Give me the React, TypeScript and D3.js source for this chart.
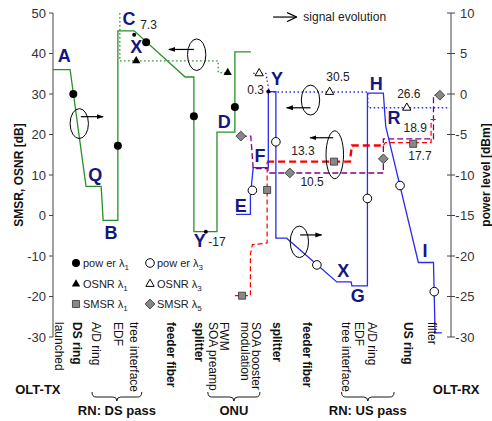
import React from 'react';
import * as d3 from 'd3';

const W = 492, H = 421;
const FONT = "'Liberation Sans', Arial, Helvetica, sans-serif";

// ---------- data (x: position along the link, a.u. 0..100; left axis dB, right axis dBm) ----------
const powerL1: number[][] = [[0, 3.0], [4.3, 3.0], [8.3, -11.4], [12.1, -11.4], [12.6, -15.6], [16.3, -15.6], [16.3, 7.8], [20.4, 7.8], [33.2, 2.1], [35.4, 2.1], [35.4, -17], [41.2, -17], [41.2, -4.7], [45.7, -4.7], [45.7, 5.2], [49.7, 5.2]];
const powerL1Marks: number[][] = [[5.1, 0.0], [16.3, -6.4], [23.4, 6.4], [35.4, -2.75], [45.7, -1.6]];
const powerDots: [number, number][] = [[20.4, 7.3], [38.4, -17], [54.1, 0.3]];

const powerL3: number[][] = [[46.0, -14.85], [49.6, -14.85], [49.6, -12.6], [50.3, -9.1], [54.1, -9.1], [54.1, 0.3], [56.0, 0.3], [56.0, -17.8], [58.7, -17.8], [71.3, -23.2], [74.9, -23.2], [75.1, -23.7], [79.0, -23.7], [79.0, 0.1], [83.0, 0.1], [83.6, -4.0], [91.8, -20.8], [95.6, -20.8], [96.0, -29.5], [97.7, -29.5]];
const powerL3Marks: number[][] = [[50.1, -11.9], [56.0, -5.9], [66.3, -21.1], [79.0, -12.9], [87.2, -11.3], [95.8, -24.4]];

const osnrL1: number[][] = [[16.8, 50], [16.8, 38.2], [41.5, 38.2], [41.5, 35.3], [43.9, 35.3]];
const osnrL1Marks: number[][] = [[20.9, 38.2], [43.9, 35.3]];

const osnrL3: number[][] = [[50.3, 35.1], [53.5, 35.1], [54.3, 30.5], [79.1, 30.5], [79.1, 26.6], [99.7, 26.6]];
const osnrL3Marks: number[][] = [[51.8, 35.1], [69.5, 30.5], [88.9, 26.6]];

const smsrL1a: number[][] = [[45.7, -19.8], [49.6, -19.8], [49.6, -9.5], [50.1, -7.2], [53.8, -6.8], [53.8, 13.3]];
const smsrL1b: number[][] = [[53.8, 13.3], [74.6, 13.3], [75.1, 17.3], [83.0, 17.3]];
const smsrL1c: number[][] = [[83.0, 17.3], [83.5, 18.0], [95.0, 18.0], [95.0, 23.7], [96.2, 23.7]];
const smsrL1Marks: number[][] = [[47.5, -19.8], [53.8, 6.3], [70.6, 13.3], [90.5, 17.7]];

const smsrL5: number[][] = [[47.2, 19.6], [49.7, 19.6], [50.3, 11.6], [54.0, 11.6], [54.0, 10.5], [83.0, 10.5], [83.0, 18.9], [95.6, 18.9], [95.6, 29.7], [97.2, 29.7]];
const smsrL5Marks: number[][] = [[47.2, 19.6], [59.5, 10.5], [83.0, 14.0], [97.2, 29.7]];

// stage letters (x, left-axis dB)
const letters: [string, number, number][] = [
  ['A', 2.8, 38.0], ['C', 19.1, 47.1], ['X', 20.9, 40.2], ['D', 43.0, 21.7], ['Q', 10.6, 8.5],
  ['B', 14.6, -5.8], ['Y', 36.9, -7.8], ['E', 47.2, 0.9], ['F', 52.0, 13.1], ['Y', 56.3, 32.1],
  ['H', 81.2, 31.1], ['R', 85.7, 22.5], ['X', 72.9, -15.2], ['G', 76.6, -21.4], ['I', 93.5, -10.3],
];
// value labels (text, x, dB, anchor)
const values: [string, number, number, string][] = [
  ['7.3', 21.9, 46.1, 'start'], ['-17', 39.0, -7.5, 'start'], ['0.3', 53.0, 29.9, 'end'],
  ['30.5', 71.6, 33.1, 'middle'], ['26.6', 89.4, 28.9, 'middle'], ['18.9', 91.0, 20.5, 'middle'],
  ['17.7', 92.2, 13.6, 'middle'], ['13.3', 62.8, 14.9, 'middle'], ['10.5', 65.1, 7.3, 'middle'],
];
// ellipse annotations: cx, cy(dB), rx(a.u.), ry(dB), arrow from x, to x, arrow dB
const ellipses: number[][] = [
  [6.6, 22.7, 2.3, 3.7, 7.0, 12.6, 24.4],
  [36.1, 39.7, 2.3, 3.9, 35.4, 29.1, 41.0],
  [64.7, 28.5, 2.3, 3.7, 64.7, 58.7, 26.6],
  [70.8, 15.0, 2.2, 5.9, 70.4, 64.6, 19.2],
  [61.9, -6.5, 2.3, 3.9, 62.1, 67.5, -4.8],
];

const stages: [string[], number][] = [
  [['launched'], 1.5], [['DS ring'], 6.0], [['A/D ring'], 10.8], [['EDF'], 16.3], [['tree interface'], 20.4],
  [['feeder fiber'], 29.6], [['splitter'], 36.7], [['FWM', 'SOA preamp'], 41.6], [['SOA booster', 'modulation'], 49.7],
  [['splitter'], 56.3], [['feeder fiber'], 63.8], [['tree interface'], 73.6], [['EDF'], 76.9], [['A/D ring'], 80.2],
  [['US ring'], 89.2], [['filter'], 95.2],
];
const boldStages = new Set(['DS ring', 'feeder fiber', 'splitter', 'US ring']);
const groupsBrace: [string, number, number][] = [['RN: DS pass', 9.8, 22.3], ['ONU', 38.9, 52.0], ['RN: US pass', 72.5, 85.7]];
const groupsPlain: [string, number][] = [['OLT-TX', -3.8], ['OLT-RX', 101.3]];

const GREEN = '#2a8f2a';
const BLUE = '#2a2af0';
const RED = '#ff0000';
const PURPLE = '#800080';
const NAVY = '#16167f';

export default function App() {
  const x = d3.scaleLinear().domain([0, 100]).range([53, 451]);
  const yL = d3.scaleLinear().domain([-30, 50]).range([337, 13]);
  const yR = d3.scaleLinear().domain([-30, 10]).range([337, 13]);
  const lineL = d3.line<number[]>().x(d => x(d[0])).y(d => yL(d[1]));
  const lineR = d3.line<number[]>().x(d => x(d[0])).y(d => yR(d[1]));

  const tri = d3.symbol().type(d3.symbolTriangle).size(30)() as string;
  const sq = d3.symbol().type(d3.symbolSquare).size(50)() as string;
  const dia = d3.symbol().type(d3.symbolSquare).size(48)() as string;

  const brace = (x1: number, x2: number) => {
    const a = x(x1), b = x(x2), c = (a + b) / 2, y0 = 392, y1 = 397, y2 = 401, r = 4;
    return `M${a},${y0} Q${a},${y1} ${a + r},${y1} L${c - r},${y1} Q${c},${y1} ${c},${y2} Q${c},${y1} ${c + r},${y1} L${b - r},${y1} Q${b},${y1} ${b},${y0}`;
  };

  const Sub = ({ t }: { t: string }) => (
    <tspan dy={3} fontSize={8}>{t}</tspan>
  );

  const legend = [
    { kind: 'fc', lx: 76, ly: 263, text: 'pow er λ', sub: '1' },
    { kind: 'oc', lx: 150, ly: 263, text: 'pow er λ', sub: '3' },
    { kind: 'ft', lx: 76, ly: 284, text: 'OSNR λ', sub: '1' },
    { kind: 'ot', lx: 150, ly: 284, text: 'OSNR λ', sub: '3' },
    { kind: 'sq', lx: 76, ly: 304, text: 'SMSR λ', sub: '1' },
    { kind: 'di', lx: 150, ly: 304, text: 'SMSR λ', sub: '5' },
  ];
  const legendMark = (k: string, cx: number, cy: number) => {
    switch (k) {
      case 'fc': return <circle cx={cx} cy={cy} r={4} fill="#000" />;
      case 'oc': return <circle cx={cx} cy={cy} r={4.3} fill="#fff" stroke="#000" strokeWidth={1} />;
      case 'ft': return <path d={tri} transform={`translate(${cx},${cy})`} fill="#000" />;
      case 'ot': return <path d={tri} transform={`translate(${cx},${cy})`} fill="#fff" stroke="#000" strokeWidth={1} />;
      case 'sq': return <path d={sq} transform={`translate(${cx},${cy})`} fill="#888" stroke="#333" strokeWidth={0.8} />;
      default: return <path d={dia} transform={`translate(${cx},${cy}) rotate(45)`} fill="#888" stroke="#333" strokeWidth={0.8} />;
    }
  };

  return (
    <svg width={W} height={H} style={{ position: 'absolute', left: 0, top: 0, background: '#fff' }} fontFamily={FONT}>
      <defs>
        <marker id="ah" viewBox="0 0 10 10" refX={9} refY={5} markerWidth={7} markerHeight={7} orient="auto-start-reverse" markerUnits="userSpaceOnUse">
          <path d="M0,1.5 L10,5 L0,8.5 Z" fill="#000" />
        </marker>
        <marker id="ahOpen" viewBox="0 0 10 10" refX={9.5} refY={5} markerWidth={10} markerHeight={10} orient="auto" markerUnits="userSpaceOnUse">
          <path d="M0,0.5 L9.5,5 L0,9.5" fill="none" stroke="#000" strokeWidth={1.2} />
        </marker>
      </defs>

      {/* axes */}
      <line x1={53} x2={53} y1={yL(50)} y2={yL(-30)} stroke="#444" strokeWidth={1} />
      {yL.ticks(8).map(t => (
        <g key={'l' + t}>
          <line x1={49} x2={53} y1={yL(t)} y2={yL(t)} stroke="#444" />
          <text x={46} y={yL(t)} dy="0.35em" textAnchor="end" fontSize={13} fill="#333">{t}</text>
        </g>
      ))}
      <line x1={451} x2={451} y1={yR(10)} y2={yR(-30)} stroke="#444" strokeWidth={1} />
      {yR.ticks(8).map(t => (
        <g key={'r' + t}>
          <line x1={447} x2={455} y1={yR(t)} y2={yR(t)} stroke="#444" />
          <text x={460} y={yR(t)} dy="0.35em" textAnchor="start" fontSize={13} fill="#333">{Math.abs(t)}</text>
          {t < 0 && <text x={459.5} y={yR(t)} dy="0.35em" textAnchor="end" fontSize={13} fill="#333">-</text>}
        </g>
      ))}
      <text transform="translate(19,175) rotate(-90)" textAnchor="middle" dy="0.35em" fontSize={12} fontWeight="bold" fill="#111">SMSR, OSNR [dB]</text>
      <text transform="translate(486,175) rotate(-90)" textAnchor="middle" dy="0.35em" fontSize={12} fontWeight="bold" fill="#111">power level [dBm]</text>

      {/* lines */}
      <path d={lineL(osnrL1) as string} fill="none" stroke={GREEN} strokeWidth={1.3} strokeDasharray="1.5 2.5" />
      <path d={lineL(osnrL3) as string} fill="none" stroke={BLUE} strokeWidth={1.3} strokeDasharray="1.5 2.5" />
      <path d={lineL(smsrL5) as string} fill="none" stroke={PURPLE} strokeWidth={1.3} strokeDasharray="6 3" />
      <path d={lineL(smsrL1a) as string} fill="none" stroke={RED} strokeWidth={1.2} strokeDasharray="5 3" />
      <path d={lineL(smsrL1b) as string} fill="none" stroke={RED} strokeWidth={2.4} strokeDasharray="7 4" />
      <path d={lineL(smsrL1c) as string} fill="none" stroke={RED} strokeWidth={1.2} strokeDasharray="5 3" />
      <path d={lineR(powerL1) as string} fill="none" stroke={GREEN} strokeWidth={1.3} />
      <path d={lineR(powerL3) as string} fill="none" stroke={BLUE} strokeWidth={1.3} />

      {/* markers */}
      {powerL1Marks.map((d, i) => <circle key={'p1' + i} cx={x(d[0])} cy={yR(d[1])} r={4} fill="#000" />)}
      {powerDots.map((d, i) => <circle key={'pd' + i} cx={x(d[0])} cy={yR(d[1])} r={2} fill="#000" />)}
      {powerL3Marks.map((d, i) => <circle key={'p3' + i} cx={x(d[0])} cy={yR(d[1])} r={4.3} fill="#fff" stroke="#000" strokeWidth={1} />)}
      {osnrL1Marks.map((d, i) => <path key={'o1' + i} d={tri} transform={`translate(${x(d[0])},${yL(d[1])})`} fill="#000" />)}
      {osnrL3Marks.map((d, i) => <path key={'o3' + i} d={tri} transform={`translate(${x(d[0])},${yL(d[1])})`} fill="#fff" stroke="#000" strokeWidth={1} />)}
      {smsrL1Marks.map((d, i) => <path key={'s1' + i} d={sq} transform={`translate(${x(d[0])},${yL(d[1])})`} fill="#888" stroke="#333" strokeWidth={0.8} />)}
      {smsrL5Marks.map((d, i) => <path key={'s5' + i} d={dia} transform={`translate(${x(d[0])},${yL(d[1])}) rotate(45)`} fill="#888" stroke="#333" strokeWidth={0.8} />)}

      {/* ellipses with arrows */}
      {ellipses.map((e, i) => (
        <g key={'e' + i}>
          <ellipse cx={x(e[0])} cy={yL(e[1])} rx={x(e[2]) - x(0)} ry={yL(0) - yL(e[3])} fill="none" stroke="#000" strokeWidth={1} />
          <line x1={x(e[4])} x2={x(e[5])} y1={yL(e[6])} y2={yL(e[6])} stroke="#000" strokeWidth={1.2} markerEnd="url(#ah)" />
        </g>
      ))}

      {/* signal evolution */}
      <line x1={x(55.3)} x2={x(61.2)} y1={yL(49)} y2={yL(49)} stroke="#000" strokeWidth={1.2} markerEnd="url(#ahOpen)" />
      <text x={x(62.9)} y={yL(49)} dy="0.35em" fontSize={12} fill="#222">signal evolution</text>

      {/* stage letters */}
      {letters.map((l, i) => (
        <text key={'L' + i} x={x(l[1])} y={yL(l[2])} textAnchor="middle" fontSize={18} fontWeight="bold" fill={NAVY}>{l[0]}</text>
      ))}
      {values.map((v, i) => (
        <text key={'V' + i} x={x(v[1])} y={yL(v[2])} textAnchor={v[3]} fontSize={12} fill="#222">{v[0]}</text>
      ))}

      {/* legend */}
      {legend.map((g, i) => (
        <g key={'g' + i}>
          {legendMark(g.kind, g.lx, g.ly)}
          <text x={g.lx + 7} y={g.ly} dy="0.35em" fontSize={11} fill="#222">{g.text}<Sub t={g.sub} /></text>
        </g>
      ))}

      {/* stage labels */}
      {stages.map((s, i) => {
        const lines = s[0];
        const n = lines.length;
        return lines.map((t, j) => {
          const cx = x(s[1]) + ((n - 1) / 2 - j) * 11;
          return (
            <text key={'s' + i + '_' + j} transform={`translate(${cx},322) rotate(90)`} dy="0.35em" fontSize={12}
              fontWeight={boldStages.has(t) ? 'bold' : 'normal'} fill="#111">{t}</text>
          );
        });
      })}

      {/* groups */}
      {groupsBrace.map((g, i) => (
        <g key={'gb' + i}>
          <path d={brace(g[1], g[2])} fill="none" stroke="#000" strokeWidth={0.9} />
          <text x={x((g[1] + g[2]) / 2)} y={415} textAnchor="middle" fontSize={13} fontWeight="bold" fill="#111">{g[0]}</text>
        </g>
      ))}
      {groupsPlain.map((g, i) => (
        <text key={'gp' + i} x={x(g[1])} y={394} textAnchor="middle" fontSize={13} fontWeight="bold" fill="#111">{g[0]}</text>
      ))}
    </svg>
  );
}
